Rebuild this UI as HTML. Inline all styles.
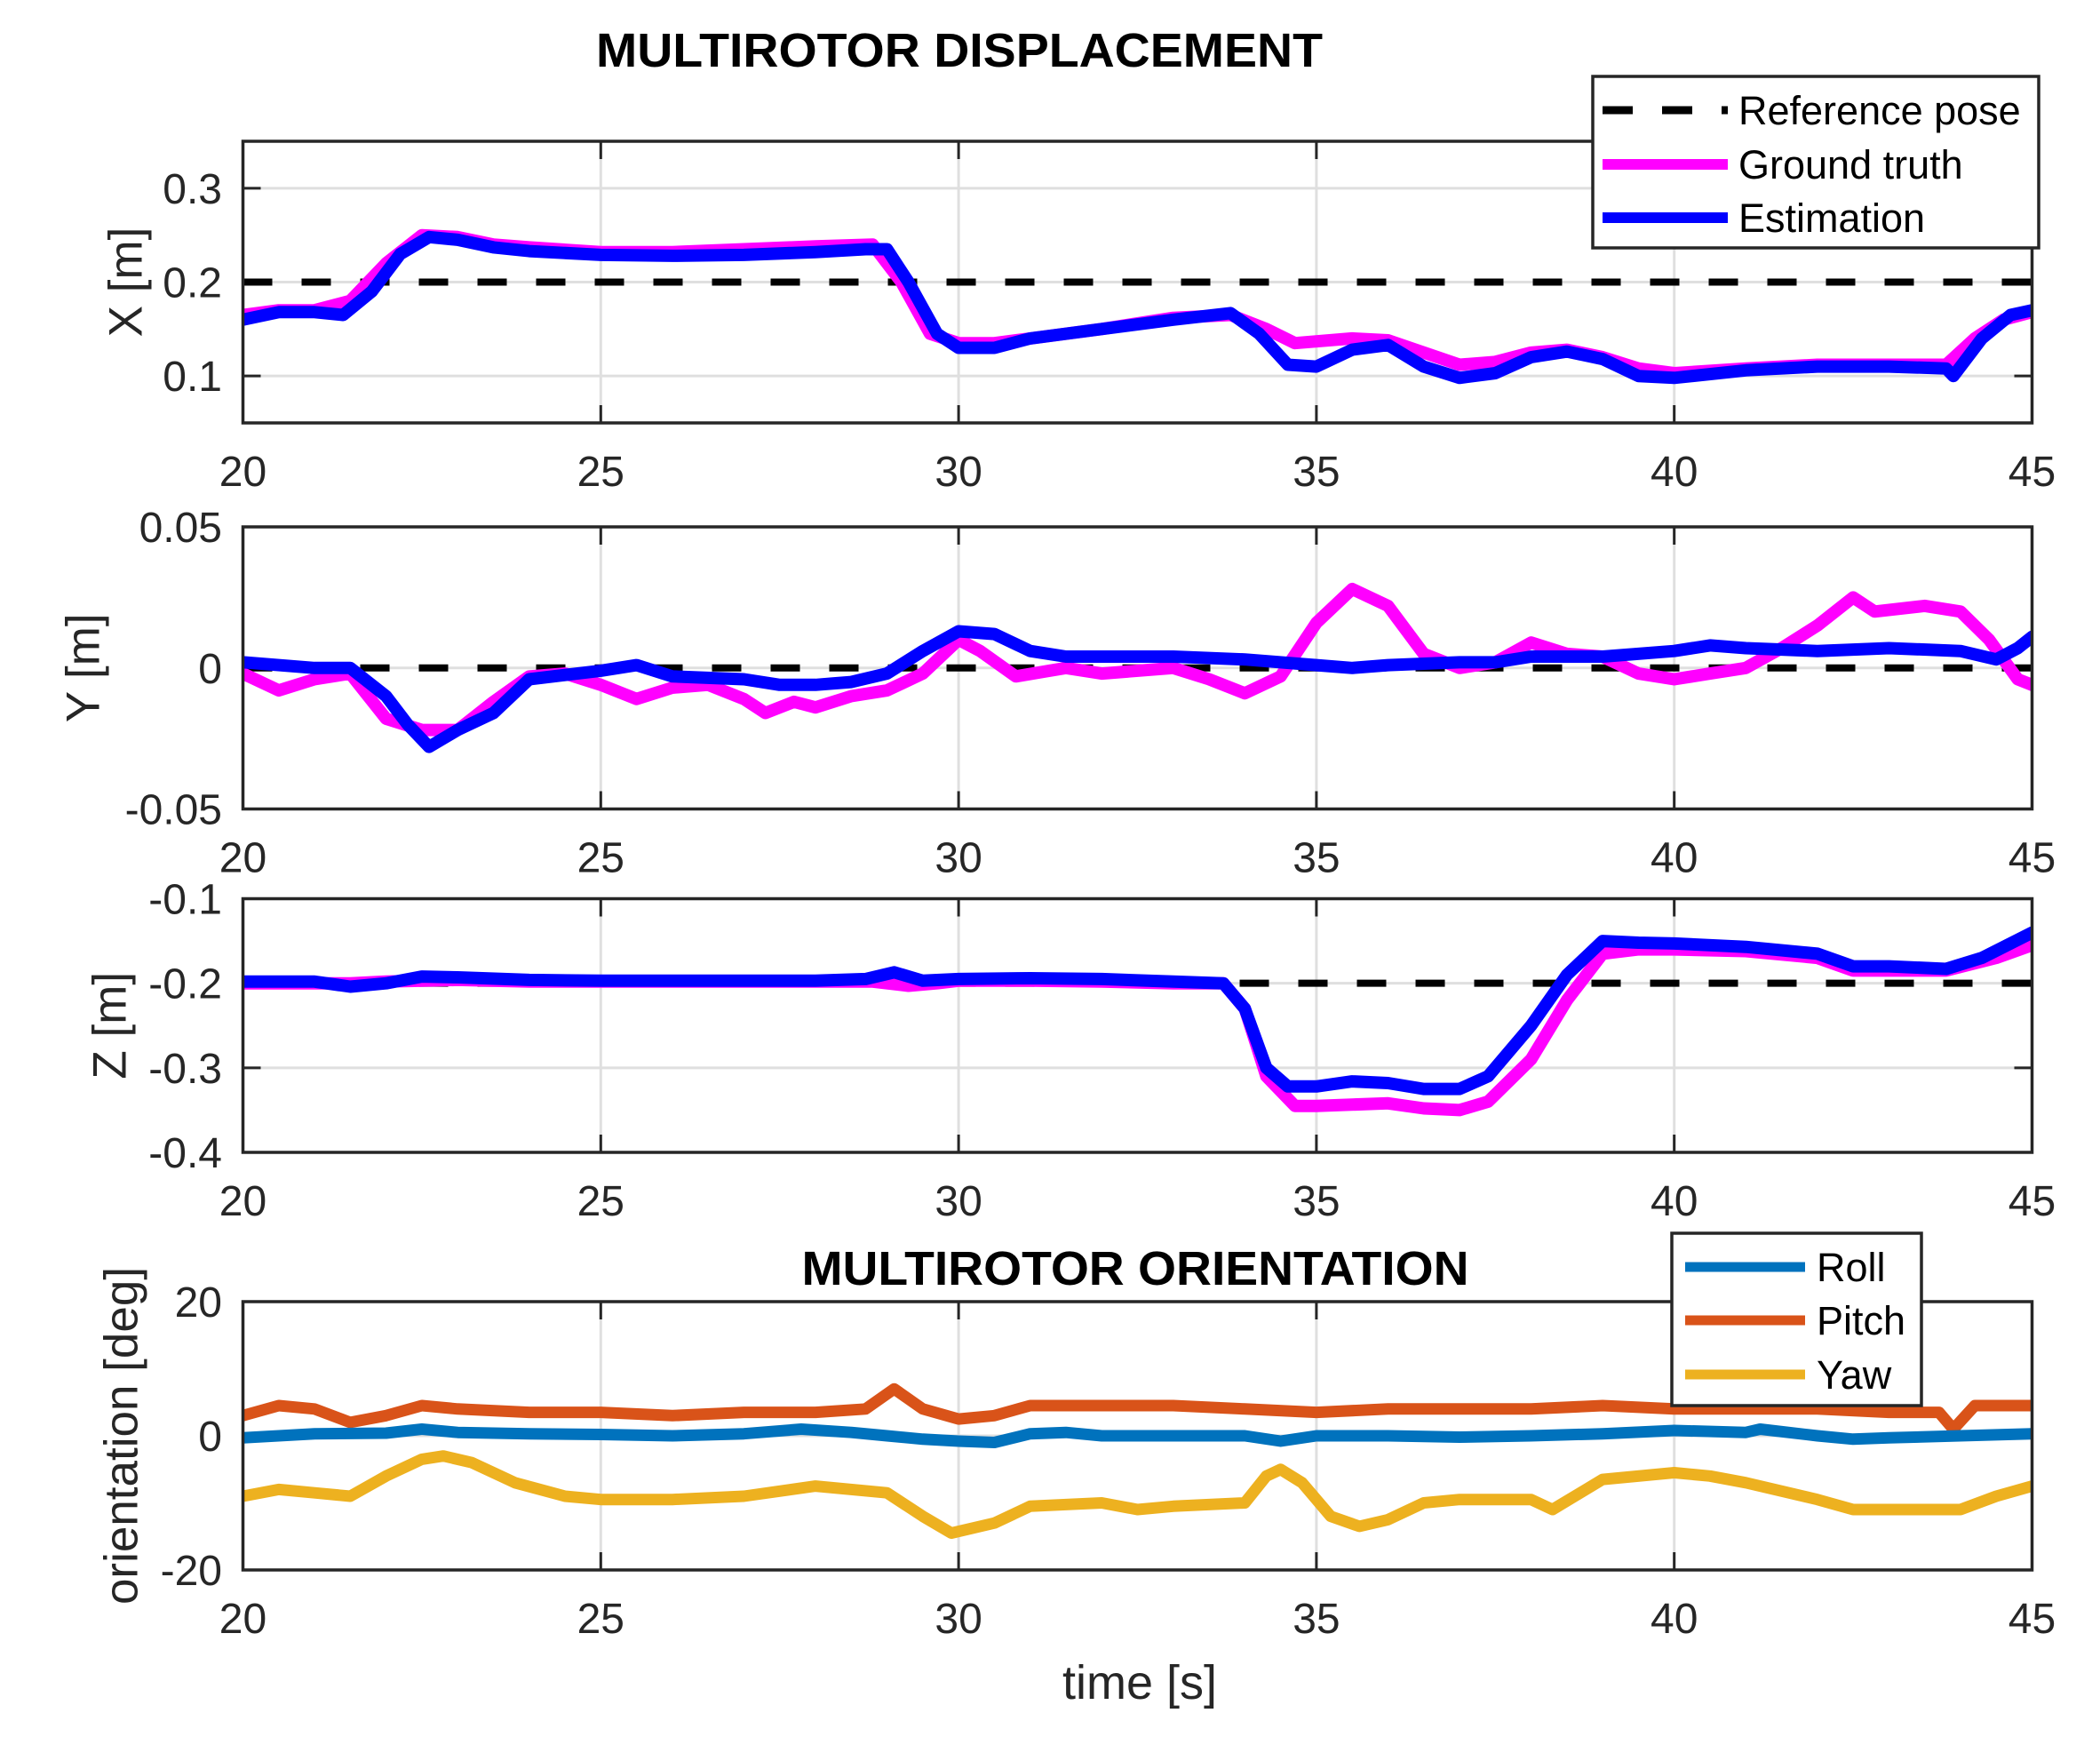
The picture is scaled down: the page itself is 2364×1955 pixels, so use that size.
<!DOCTYPE html>
<html><head><meta charset="utf-8"><style>
html,body{margin:0;padding:0;background:#fff;}
svg{display:block;font-family:"Liberation Sans",Arial,sans-serif;}
</style></head><body>
<svg id="chart" width="2364" height="1955" viewBox="0 0 2364 1955" xmlns="http://www.w3.org/2000/svg">
<rect width="2364" height="1955" fill="#fff"/>
<g id="layer"></g>
<text x="1080" y="75" font-size="54" font-weight="bold" text-anchor="middle" fill="#000" textLength="818" lengthAdjust="spacingAndGlyphs">MULTIROTOR DISPLACEMENT</text>
<text x="1278" y="1446" font-size="54" font-weight="bold" text-anchor="middle" fill="#000" textLength="751" lengthAdjust="spacingAndGlyphs">MULTIROTOR ORIENTATION</text>
<text x="1283" y="1912" font-size="54" text-anchor="middle" fill="#262626">time [s]</text>
</svg>
<script>
const xTicks=[20,25,30,35,40,45];
const xTickLabels=["20","25","30","35","40","45"];
const xRefValue=0.2, yRefValue=0, zRefValue=-0.2;
const xTicksX=[0.1,0.2,0.3], xTickLabelsX=["0.1","0.2","0.3"];
const yTicksY=[-0.05,0,0.05], yTickLabelsY=["-0.05","0","0.05"];
const zTicksZ=[-0.4,-0.3,-0.2,-0.1], zTickLabelsZ=["-0.4","-0.3","-0.2","-0.1"];
const oTicks=[-20,0,20], oTickLabels=["-20","0","20"];

const gtXt=[20,20.5,21,21.5,22,22.5,23,23.5,24,25,26,27,28,28.8,29.2,29.6,30,30.5,31,32,33,33.8,34.3,34.7,35.5,36,36.5,37,37.5,38,38.5,39,39.5,40,41,42,43,43.8,44.2,44.6,45];
const gtX=[0.165,0.17,0.17,0.18,0.22,0.25,0.248,0.24,0.237,0.232,0.232,0.235,0.238,0.24,0.2,0.145,0.135,0.135,0.14,0.15,0.162,0.165,0.15,0.135,0.14,0.138,0.125,0.112,0.115,0.125,0.128,0.12,0.108,0.103,0.108,0.112,0.112,0.112,0.14,0.16,0.168];
const esXt=[20,20.5,21,21.4,21.8,22.2,22.6,23,23.5,24,25,26,27,28,28.7,29,29.3,29.7,30,30.5,31,32,33,33.8,34.2,34.6,35,35.5,36,36.5,37,37.5,38,38.5,39,39.5,40,41,42,43,43.8,43.9,44.3,44.7,45];
const esX=[0.16,0.168,0.168,0.165,0.19,0.23,0.248,0.245,0.237,0.233,0.229,0.228,0.229,0.232,0.235,0.235,0.2,0.145,0.13,0.13,0.14,0.15,0.16,0.167,0.145,0.112,0.11,0.128,0.133,0.11,0.098,0.103,0.12,0.126,0.118,0.1,0.098,0.106,0.11,0.11,0.108,0.1,0.14,0.165,0.17];

const gtYt=[20,20.5,21,21.5,22,22.5,23,23.5,24,24.5,25,25.5,26,26.5,27,27.3,27.7,28,28.5,29,29.5,30,30.3,30.8,31.5,32,33,33.5,34,34.5,35,35.5,36,36.5,37,37.5,38,38.5,39,39.5,40,40.5,41,41.5,42,42.5,42.8,43.5,44,44.4,44.8,45];
const gtY=[-0.002,-0.008,-0.004,-0.002,-0.018,-0.022,-0.022,-0.012,-0.003,-0.002,-0.006,-0.011,-0.007,-0.006,-0.011,-0.016,-0.012,-0.014,-0.01,-0.008,-0.002,0.01,0.006,-0.003,0,-0.002,0,-0.004,-0.009,-0.003,0.016,0.028,0.022,0.005,0,0.002,0.009,0.005,0.004,-0.002,-0.004,-0.002,0,0.007,0.015,0.025,0.02,0.022,0.02,0.01,-0.004,-0.006];
const esYt=[20,21,21.5,22,22.3,22.6,23,23.5,24,25,25.5,26,27,27.5,28,28.5,29,29.5,30,30.5,31,31.5,32,33,34,35,35.5,36,37,37.5,38,39,40,40.5,41,42,43,44,44.5,44.8,45];
const esY=[0.002,0,0,-0.01,-0.02,-0.028,-0.022,-0.016,-0.004,-0.001,0.001,-0.003,-0.004,-0.006,-0.006,-0.005,-0.002,0.006,0.013,0.012,0.006,0.004,0.004,0.004,0.003,0.001,0,0.001,0.002,0.002,0.004,0.004,0.006,0.008,0.007,0.006,0.007,0.006,0.003,0.007,0.011];

const gtZt=[20,21,21.5,22,23,24,25,26,27,28,28.8,29.3,29.7,30,31,32,33,33.7,34,34.3,34.7,35,36,36.5,37,37.4,38,38.5,39,39.5,40,41,42,42.5,43,43.8,44.5,45];
const gtZ=[-0.2,-0.2,-0.2,-0.198,-0.196,-0.198,-0.198,-0.198,-0.198,-0.198,-0.198,-0.203,-0.2,-0.197,-0.197,-0.198,-0.2,-0.2,-0.23,-0.31,-0.345,-0.345,-0.342,-0.348,-0.35,-0.34,-0.29,-0.22,-0.165,-0.16,-0.16,-0.162,-0.17,-0.185,-0.185,-0.185,-0.17,-0.155];
const esZt=[20,21,21.5,22,22.5,23,24,25,26,27,28,28.7,29.1,29.5,30,31,32,33,33.7,34,34.3,34.6,35,35.5,36,36.5,37,37.4,38,38.5,39,39.5,40,41,42,42.5,43,43.8,44.3,45];
const esZ=[-0.198,-0.198,-0.204,-0.2,-0.192,-0.193,-0.196,-0.197,-0.197,-0.197,-0.197,-0.195,-0.187,-0.197,-0.195,-0.194,-0.195,-0.198,-0.2,-0.23,-0.3,-0.322,-0.322,-0.316,-0.318,-0.325,-0.325,-0.31,-0.25,-0.19,-0.15,-0.152,-0.153,-0.157,-0.165,-0.18,-0.18,-0.183,-0.17,-0.14];

const rollT=[20,21,22,22.5,23,24,25,26,27,27.8,28.5,29,29.5,30,30.5,31,31.5,32,33,34,34.5,35,36,37,38,39,40,41,41.2,42,42.5,43,44,45];
const roll=[-0.3,0.3,0.4,1,0.5,0.3,0.2,0,0.3,1,0.5,0,-0.5,-0.8,-1,0.3,0.5,0,0,0,-0.8,0,0,-0.2,0,0.3,0.8,0.5,1,0,-0.5,-0.3,0,0.3];
const pitchT=[20,20.5,21,21.5,22,22.5,23,24,25,26,27,28,28.7,29.1,29.5,30,30.5,31,32,33,34,35,36,37,38,39,40,41,42,43,43.7,43.9,44.2,45];
const pitch=[3,4.5,4,2,3,4.5,4,3.5,3.5,3,3.5,3.5,4,7,4,2.5,3,4.5,4.5,4.5,4,3.5,4,4,4,4.5,4,4,4,3.5,3.5,1,4.5,4.5];
const yawT=[20,20.5,21,21.5,22,22.5,22.8,23.2,23.8,24.5,25,26,27,28,29,29.5,29.9,30.5,31,32,32.5,33,34,34.3,34.5,34.8,35.2,35.6,36,36.5,37,38,38.3,39,40,40.5,41,42,42.5,43,44,44.5,45];
const yaw=[-9,-8,-8.5,-9,-6,-3.5,-3,-4,-7,-9,-9.5,-9.5,-9,-7.5,-8.5,-12,-14.5,-13,-10.5,-10,-11,-10.5,-10,-6,-5,-7,-12,-13.5,-12.5,-10,-9.5,-9.5,-11,-6.5,-5.5,-6,-7,-9.5,-11,-11,-11,-9,-7.5];

const NS="http://www.w3.org/2000/svg";
const layer=document.getElementById('layer');
const L=273.5,R=2287.5;
const sx=t=>L+(t-20)/(45-20)*(R-L);
function mk(tag,attrs,parent){const e=document.createElementNS(NS,tag);for(const k in attrs)e.setAttribute(k,attrs[k]);(parent||layer).appendChild(e);return e;}

function panel(name,top,bot,ymin,ymax,yt,ytl,label,labelX){
  const g=mk('g',{});
  
  
  const sy=v=>bot-(v-ymin)/(ymax-ymin)*(bot-top);
  xTicks.forEach((t,i)=>{
    const gl=mk('line',{x1:sx(t),x2:sx(t),y1:top,y2:bot,stroke:'#dfdfdf','stroke-width':3},g);
    
    
    const tl=mk('text',{x:sx(t),y:bot+71,'font-size':48,'text-anchor':'middle',fill:'#262626'},g);
    tl.textContent=xTickLabels[i];
    
    
    mk('line',{x1:sx(t),x2:sx(t),y1:bot,y2:bot-20,stroke:'#262626','stroke-width':3},g);
    mk('line',{x1:sx(t),x2:sx(t),y1:top,y2:top+20,stroke:'#262626','stroke-width':3},g);
  });
  yt.forEach((v,i)=>{
    const y=sy(v);
    const gl=mk('line',{x1:L,x2:R,y1:y,y2:y,stroke:'#dfdfdf','stroke-width':3},g);
    
    
    if(y>top+2&&y<bot-2){
      mk('line',{x1:L,x2:L+20,y1:y,y2:y,stroke:'#262626','stroke-width':3},g);
      mk('line',{x1:R,x2:R-20,y1:y,y2:y,stroke:'#262626','stroke-width':3},g);
    }
    const tl=mk('text',{x:250,y:y+17,'font-size':48,'text-anchor':'end',fill:'#262626'},g);
    tl.textContent=ytl[i];
    
    
  });
  const yl=mk('text',{x:labelX,y:(top+bot)/2,'font-size':53,'text-anchor':'middle',fill:'#262626',transform:`rotate(-90 ${labelX} ${(top+bot)/2})`,'dominant-baseline':'central'},g);
  yl.textContent=label;
  
  
  const clip=mk('clipPath',{id:'clip-'+name},g);
  mk('rect',{x:L,y:top,width:R-L,height:bot-top},clip);
  const dg=mk('g',{'clip-path':`url(#clip-${name})`},g);
  return {g,dg,sy,top,bot};
}
function series(p,ts,vs,color,name,w){
  const pts=ts.map((t,i)=>sx(t).toFixed(1)+','+p.sy(vs[i]).toFixed(1)).join(' ');
  const e=mk('polyline',{points:pts,fill:'none',stroke:color,'stroke-width':w||14,'stroke-linejoin':'round','stroke-linecap':'round'},p.dg);
  
  
}
function refLine(p,v,name){
  const y=p.sy(v);
  const e=mk('line',{x1:L,x2:R,y1:y,y2:y,stroke:'#000','stroke-width':8,'stroke-dasharray':'33 33'},p.dg);
  
  
}
function frame(p,name){
  const e=mk('rect',{x:L,y:p.top,width:R-L,height:p.bot-p.top,fill:'none',stroke:'#262626','stroke-width':3.5},p.g);
  
  
}

const pX=panel('x',159,476,0.05,0.35,xTicksX,xTickLabelsX,'X [m]',142);
refLine(pX,xRefValue,'x-reference-line');
series(pX,gtXt,gtX,'#ff00ff','x-ground-truth-line');
series(pX,esXt,esX,'#0000ff','x-estimation-line');
frame(pX,'x');

const pY=panel('y',593,910.5,-0.05,0.05,yTicksY,yTickLabelsY,'Y [m]',94);
refLine(pY,yRefValue,'y-reference-line');
series(pY,gtYt,gtY,'#ff00ff','y-ground-truth-line');
series(pY,esYt,esY,'#0000ff','y-estimation-line');
frame(pY,'y');

const pZ=panel('z',1011.5,1297,-0.4,-0.1,zTicksZ,zTickLabelsZ,'Z [m]',124);
refLine(pZ,zRefValue,'z-reference-line');
series(pZ,gtZt,gtZ,'#ff00ff','z-ground-truth-line');
series(pZ,esZt,esZ,'#0000ff','z-estimation-line');
frame(pZ,'z');

const pO=panel('orientation',1465,1767,-20,20,oTicks,oTickLabels,'orientation [deg]',137);
series(pO,pitchT,pitch,'#d95319','pitch-line',13);
series(pO,rollT,roll,'#0072bd','roll-line',13);
series(pO,yawT,yaw,'#edb120','yaw-line',13);
frame(pO,'orientation');

// legend 1
const lg=mk('g',{});


mk('rect',{x:1793,y:86,width:502,height:193,fill:'#fff',stroke:'#262626','stroke-width':3.5},lg);
mk('line',{x1:1804,x2:1945,y1:124,y2:124,stroke:'#000','stroke-width':9,'stroke-dasharray':'34 33'},lg);
mk('line',{x1:1804,x2:1945,y1:185,y2:185,stroke:'#ff00ff','stroke-width':12},lg);
mk('line',{x1:1804,x2:1945,y1:245,y2:245,stroke:'#0000ff','stroke-width':12},lg);
[['Reference pose',140],['Ground truth',201],['Estimation',261]].forEach(([s,y])=>{
  const t=mk('text',{x:1957,y:y,'font-size':45,fill:'#000'},lg);t.textContent=s;
  
  
});
// legend 2
const lg2=mk('g',{});


mk('rect',{x:1882,y:1388,width:281,height:194,fill:'#fff',stroke:'#262626','stroke-width':3.5},lg2);
[['Roll',1426,'#0072bd'],['Pitch',1486,'#d95319'],['Yaw',1547,'#edb120']].forEach(([s,y,c])=>{
  mk('line',{x1:1897,x2:2032,y1:y,y2:y,stroke:c,'stroke-width':11},lg2);
  const t=mk('text',{x:2045,y:y+16,'font-size':45,fill:'#000'},lg2);t.textContent=s;
  
  
});
</script>
</body></html>
